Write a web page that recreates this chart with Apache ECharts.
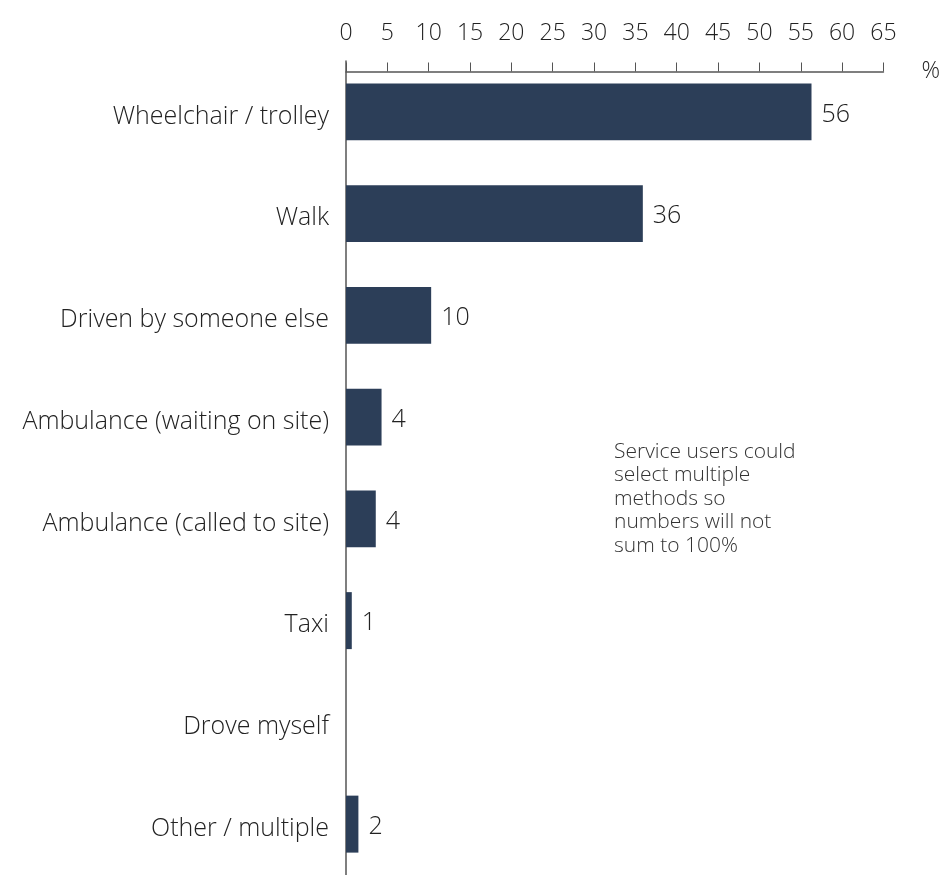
<!DOCTYPE html>
<html>
<head>
<meta charset="utf-8">
<script src="https://cdn.jsdelivr.net/npm/echarts@6/dist/echarts.min.js"></script>
<style>
  html, body { margin: 0; padding: 0; background: #fff; }
  #chart { width: 943px; height: 875px; }
</style>
</head>
<body>
<div id="chart"></div>
<script>
const categories = [
  'Wheelchair / trolley',
  'Walk',
  'Driven by someone else',
  'Ambulance (waiting on site)',
  'Ambulance (called to site)',
  'Taxi',
  'Drove myself',
  'Other / multiple'
]
const values = [56.3, 35.9, 10.3, 4.3, 3.6, 0.7, 0, 1.5]
const note = 'Service users could\nselect multiple\nmethods so\nnumbers will not\nsum to 100%'

const FONT = '"Open Sans", sans-serif'
const TEXT = '#222'

const chart = echarts.init(document.getElementById('chart'))

// nudge text a few px down so it sits like the original
const low = { fontSize: 25, fontWeight: 300, color: TEXT, padding: [9, 0, 0, 0] }

const option = {
  animation: false,
  textStyle: { fontFamily: FONT },
  grid: { left: 346, right: 58, top: 61, bottom: 0 },
  xAxis: {
    type: 'value',
    position: 'top',
    offset: -10.5,
    min: 0,
    max: 65,
    interval: 5,
    name: '%',
    nameLocation: 'end',
    nameGap: 38,
    nameTextStyle: { color: TEXT, fontSize: 23, fontWeight: 300 },
    axisLine: { show: true, lineStyle: { color: '#555', width: 1.5 } },
    axisTick: { show: true, length: 9, lineStyle: { color: '#555' } },
    axisLabel: { color: TEXT, fontSize: 23, fontWeight: 300, margin: 27 },
    splitLine: { show: false }
  },
  yAxis: {
    type: 'category',
    data: categories,
    inverse: true,
    axisLine: { show: true, lineStyle: { color: '#555', width: 1.5 } },
    axisTick: { show: false },
    axisLabel: {
      margin: 17,
      formatter: v => '{a|' + v + '}',
      rich: { a: low }
    }
  },
  series: [{
    type: 'bar',
    data: values,
    barCategoryGap: '44%',
    itemStyle: { color: '#2c3e58' },
    label: {
      show: true,
      position: 'right',
      distance: 10,
      formatter: p => p.value ? '{a|' + Math.round(p.value) + '}' : '',
      rich: { a: { ...low, padding: [5, 0, 0, 0] } }
    }
  }],
  graphic: [{
    type: 'text',
    left: 614,
    top: 440,
    style: {
      text: note,
      fill: '#333',
      font: '300 21px ' + FONT,
      lineHeight: 23.5
    }
  }]
}

chart.setOption(option)
</script>
</body>
</html>
